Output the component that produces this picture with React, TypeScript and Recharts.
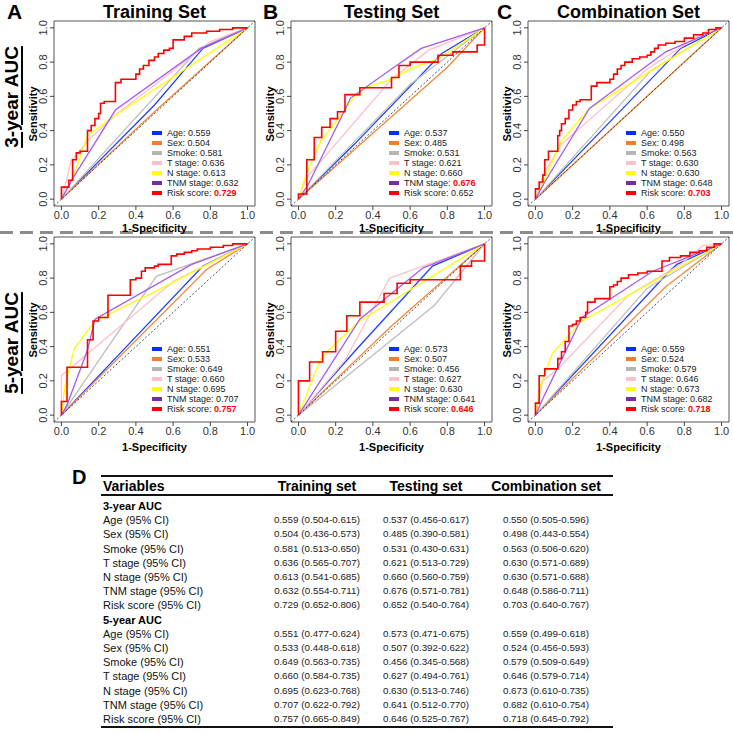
import React from 'react';
import { LineChart, Line, XAxis, YAxis, ReferenceLine, ReferenceArea } from 'recharts';

type Pt = [number, number];

const variables = ['Age', 'Sex', 'Smoke', 'T stage', 'N stage', 'TNM stage', 'Risk score'];
const lineColors = ['#2040ff', '#f08a3c', '#bebebe', '#ffc0cb', '#ffff00', '#a45cf0', '#ff0000'];
const swatchColors = ['#0030ff', '#ee7f2d', '#b5b5b5', '#ffc0cb', '#ffff00', '#7030a0', '#ff0000'];
const ticks = [0, 0.2, 0.4, 0.6, 0.8, 1];

const setTitles = ['Training Set', 'Testing Set', 'Combination Set'];
const setLetters = ['A', 'B', 'C'];
const yearLabels = ['3-year AUC', '5-year AUC'];

// AUC per variable (order of `variables`)
const aucTrain3 = [0.559, 0.504, 0.581, 0.636, 0.613, 0.632, 0.729];
const aucTest3 = [0.537, 0.485, 0.531, 0.621, 0.66, 0.676, 0.652];
const aucComb3 = [0.55, 0.498, 0.563, 0.63, 0.63, 0.648, 0.703];
const aucTrain5 = [0.551, 0.533, 0.649, 0.66, 0.695, 0.707, 0.757];
const aucTest5 = [0.573, 0.507, 0.456, 0.627, 0.63, 0.641, 0.646];
const aucComb5 = [0.559, 0.524, 0.579, 0.646, 0.673, 0.682, 0.718];

// 95% CI
const ciTrain3 = ['0.504-0.615', '0.436-0.573', '0.513-0.650', '0.565-0.707', '0.541-0.685', '0.554-0.711', '0.652-0.806'];
const ciTest3 = ['0.456-0.617', '0.390-0.581', '0.430-0.631', '0.513-0.729', '0.560-0.759', '0.571-0.781', '0.540-0.764'];
const ciComb3 = ['0.505-0.596', '0.443-0.554', '0.506-0.620', '0.571-0.689', '0.571-0.688', '0.586-0.711', '0.640-0.767'];
const ciTrain5 = ['0.477-0.624', '0.448-0.618', '0.563-0.735', '0.584-0.735', '0.623-0.768', '0.622-0.792', '0.665-0.849'];
const ciTest5 = ['0.471-0.675', '0.392-0.622', '0.345-0.568', '0.494-0.761', '0.513-0.746', '0.512-0.770', '0.525-0.767'];
const ciComb5 = ['0.499-0.618', '0.456-0.593', '0.509-0.649', '0.579-0.714', '0.610-0.735', '0.610-0.754', '0.645-0.792'];

// ROC curves [1-specificity, sensitivity]; risk score is a staircase (stepBefore)
const rocTrain3: Pt[][] = [
  [[0, 0], [0.5, 0.55], [0.76, 0.88], [1, 1]],
  [[0, 0], [0.5, 0.51], [1, 1]],
  [[0, 0], [0.74, 0.88], [1, 1]],
  [[0, 0], [0.03, 0.12], [0.05, 0.22], [0.15, 0.35], [0.3, 0.5], [0.6, 0.75], [0.8, 0.92], [1, 1]],
  [[0, 0], [0.06, 0.12], [0.14, 0.37], [0.29, 0.49], [1, 1]],
  [[0, 0], [0.06, 0.12], [0.29, 0.52], [0.75, 0.88], [1, 1]],
  [[0, 0], [0.04, 0.07], [0.06, 0.11], [0.08, 0.23], [0.1, 0.27], [0.14, 0.28], [0.16, 0.4], [0.18, 0.43], [0.2, 0.47], [0.21, 0.5], [0.23, 0.56], [0.29, 0.57], [0.32, 0.68], [0.4, 0.7], [0.42, 0.73], [0.44, 0.76], [0.47, 0.78], [0.5, 0.81], [0.52, 0.83], [0.55, 0.85], [0.58, 0.87], [0.6, 0.88], [0.66, 0.93], [0.7, 0.95], [0.78, 0.97], [0.85, 0.98], [0.92, 0.99], [1, 1]],
];
const rocTest3: Pt[][] = [
  [[0, 0], [0.3, 0.32], [0.77, 0.85], [1, 1]],
  [[0, 0], [0.8, 0.77], [1, 1]],
  [[0, 0], [0.6, 0.67], [1, 1]],
  [[0, 0], [0.04, 0.12], [0.5, 0.7], [0.7, 0.87], [1, 1]],
  [[0, 0], [0.04, 0.14], [0.12, 0.34], [0.25, 0.52], [0.3, 0.6], [0.36, 0.65], [0.5, 0.7], [0.6, 0.76], [0.75, 0.82], [1, 1]],
  [[0, 0], [0.05, 0.08], [0.24, 0.5], [0.28, 0.59], [0.5, 0.76], [0.66, 0.88], [1, 1]],
  [[0, 0], [0.045, 0.03], [0.085, 0.23], [0.125, 0.36], [0.17, 0.42], [0.21, 0.47], [0.25, 0.51], [0.33, 0.61], [0.5, 0.65], [0.54, 0.71], [0.6, 0.78], [0.75, 0.8], [0.83, 0.84], [0.96, 0.86], [1, 0.9], [1, 1]],
];
const rocComb3: Pt[][] = [
  [[0, 0], [0.78, 0.88], [1, 1]],
  [[0, 0], [0.5, 0.5], [1, 1]],
  [[0, 0], [0.62, 0.75], [1, 1]],
  [[0, 0], [0.04, 0.14], [0.14, 0.32], [0.6, 0.76], [0.93, 0.99], [1, 1]],
  [[0, 0], [0.05, 0.12], [0.14, 0.34], [0.29, 0.53], [1, 1]],
  [[0, 0], [0.05, 0.1], [0.29, 0.53], [0.7, 0.86], [1, 1]],
  [[0, 0], [0.02, 0.06], [0.04, 0.1], [0.05, 0.14], [0.07, 0.23], [0.12, 0.28], [0.13, 0.37], [0.14, 0.4], [0.16, 0.44], [0.18, 0.47], [0.2, 0.52], [0.22, 0.55], [0.24, 0.57], [0.3, 0.58], [0.33, 0.66], [0.4, 0.68], [0.42, 0.7], [0.44, 0.73], [0.46, 0.76], [0.48, 0.78], [0.52, 0.8], [0.56, 0.82], [0.6, 0.83], [0.62, 0.84], [0.64, 0.86], [0.66, 0.88], [0.7, 0.9], [0.75, 0.91], [0.8, 0.92], [0.85, 0.94], [0.9, 0.96], [0.93, 0.97], [0.97, 0.99], [1, 1]],
];
const rocTrain5: Pt[][] = [
  [[0, 0], [0.76, 0.87], [1, 1]],
  [[0, 0], [0.78, 0.85], [1, 1]],
  [[0, 0], [0.51, 0.81], [1, 1]],
  [[0, 0], [0, 0.23], [0.1, 0.32], [0.6, 0.78], [1, 1]],
  [[0, 0], [0.02, 0.18], [0.07, 0.39], [0.18, 0.55], [0.5, 0.72], [0.75, 0.86], [1, 1]],
  [[0, 0], [0.03, 0.06], [0.14, 0.38], [0.18, 0.56], [0.7, 0.88], [1, 1]],
  [[0, 0], [0.03, 0.08], [0.14, 0.28], [0.17, 0.44], [0.2, 0.55], [0.25, 0.57], [0.37, 0.7], [0.4, 0.79], [0.43, 0.8], [0.45, 0.84], [0.5, 0.86], [0.52, 0.87], [0.59, 0.88], [0.62, 0.93], [0.66, 0.94], [0.7, 0.95], [0.73, 0.96], [0.8, 0.97], [0.87, 0.98], [0.92, 0.99], [1, 1]],
];
const rocTest5: Pt[][] = [
  [[0, 0], [0.3, 0.37], [0.72, 0.87], [1, 1]],
  [[0, 0], [0.5, 0.52], [1, 1]],
  [[0, 0], [0.73, 0.64], [1, 1]],
  [[0, 0], [0.25, 0.32], [0.4, 0.62], [0.49, 0.8], [1, 1]],
  [[0, 0], [0.12, 0.33], [0.2, 0.42], [0.33, 0.55], [1, 1]],
  [[0, 0], [0.33, 0.56], [0.67, 0.86], [1, 1]],
  [[0, 0], [0.06, 0.2], [0.13, 0.31], [0.2, 0.37], [0.26, 0.49], [0.33, 0.58], [0.46, 0.66], [0.53, 0.71], [0.6, 0.77], [0.87, 0.79], [0.93, 0.87], [1, 0.9], [1, 1]],
];
const rocComb5: Pt[][] = [
  [[0, 0], [0.72, 0.84], [0.76, 0.88], [1, 1]],
  [[0, 0], [0.7, 0.75], [1, 1]],
  [[0, 0], [0.6, 0.74], [1, 1]],
  [[0, 0], [0.04, 0.2], [0.12, 0.27], [0.5, 0.7], [0.78, 0.88], [0.9, 0.99], [1, 1]],
  [[0, 0], [0.02, 0.15], [0.09, 0.36], [0.25, 0.55], [1, 1]],
  [[0, 0], [0.05, 0.12], [0.25, 0.57], [0.63, 0.84], [1, 1]],
  [[0, 0], [0.02, 0.07], [0.05, 0.23], [0.12, 0.27], [0.14, 0.33], [0.16, 0.37], [0.18, 0.43], [0.2, 0.52], [0.22, 0.53], [0.24, 0.55], [0.27, 0.57], [0.28, 0.6], [0.32, 0.66], [0.4, 0.68], [0.42, 0.75], [0.44, 0.76], [0.46, 0.78], [0.5, 0.8], [0.55, 0.82], [0.6, 0.83], [0.68, 0.84], [0.72, 0.9], [0.78, 0.92], [0.83, 0.93], [0.88, 0.95], [0.92, 0.96], [0.96, 0.98], [1, 1]],
];

const FONT = '"Liberation Sans", Arial, Helvetica, sans-serif';
const COL_LEFT = [54, 291, 528];
const ROW_TOP = [21, 237];
const XLAB_GAP = [22, 25];
const BOX_W = 201;
const BOX_H = 185;

const XTick = (props: any) => {
  const { x, y, payload } = props;
  return (
    <text x={x} y={y + 3} textAnchor="middle" dominantBaseline="central" fontSize={11} fill="#333" fontFamily={FONT}>
      {Number(payload.value).toFixed(1)}
    </text>
  );
};

const YTick = (props: any) => {
  const { x, y, payload } = props;
  const cx = x - 5;
  return (
    <text x={cx} y={y} transform={`rotate(-90, ${cx}, ${y})`} textAnchor="middle" dominantBaseline="central" fontSize={11} fill="#333" fontFamily={FONT}>
      {Number(payload.value).toFixed(1)}
    </text>
  );
};

function RocPanel({ curves, auc, left, top, xlabGap }: { curves: Pt[][]; auc: number[]; left: number; top: number; xlabGap: number }) {
  const series = curves.map((c) => c.map(([x, y]) => ({ x, y })));
  const best = auc.indexOf(Math.max(...auc));
  return (
    <>
      <div style={{ position: 'absolute', left: left - 44, top: top - 2 }}>
        <LineChart width={BOX_W + 46} height={BOX_H + 28} margin={{ top: 2, right: 2, bottom: 0, left: 0 }}>
          <XAxis
            type="number"
            dataKey="x"
            domain={[-0.04, 1.04]}
            ticks={ticks}
            interval={0}
            allowDataOverflow
            axisLine={false}
            tickLine={{ stroke: '#444' }}
            tickSize={4}
            height={26}
            tick={XTick}
          />
          <YAxis
            type="number"
            dataKey="y"
            domain={[-0.04, 1.04]}
            ticks={ticks}
            interval={0}
            allowDataOverflow
            axisLine={false}
            tickLine={{ stroke: '#444' }}
            tickSize={4}
            width={44}
            tick={YTick}
          />
          <ReferenceArea x1={-0.04} x2={1.04} y1={-0.04} y2={1.04} fill="none" stroke="#555" strokeWidth={1} ifOverflow="visible" />
          {series.map((d, i) => (
            <Line
              key={variables[i]}
              data={d}
              dataKey="y"
              type={i === 6 ? 'stepBefore' : 'linear'}
              stroke={lineColors[i]}
              strokeWidth={i === 6 ? 1.6 : 1.3}
              dot={false}
              activeDot={false}
              isAnimationActive={false}
            />
          ))}
          <ReferenceLine
            segment={[{ x: -0.04, y: -0.04 }, { x: 1.04, y: 1.04 }]}
            stroke="#222"
            strokeWidth={0.8}
            strokeDasharray="2 2"
            ifOverflow="visible"
          />
        </LineChart>
      </div>
      {variables.map((v, i) => (
        <div
          key={v}
          style={{
            position: 'absolute',
            left: left + 98,
            top: top + BOX_H - 13 - (6 - i) * 10 - 5,
            height: 10,
            lineHeight: '10px',
            fontSize: 9,
            fontFamily: FONT,
            color: '#222',
            whiteSpace: 'nowrap',
          }}
        >
          <span style={{ display: 'inline-block', width: 10, height: 4, background: swatchColors[i], verticalAlign: 'middle', marginRight: 5, marginTop: -2 }} />
          {v}:{' '}
          <span style={i === best ? { color: '#ff0000', fontWeight: 'bold' } : undefined}>{auc[i].toFixed(3)}</span>
        </div>
      ))}
      <div style={{ position: 'absolute', left: left, width: BOX_W, top: top + BOX_H + xlabGap - 6, textAlign: 'center', fontSize: 11, fontWeight: 'bold', fontFamily: FONT, lineHeight: '12px', whiteSpace: 'nowrap' }}>
        1-Specificity
      </div>
      <div
        style={{
          position: 'absolute',
          left: left - 21,
          top: top + BOX_H / 2,
          transform: 'translate(-50%, -50%) rotate(-90deg)',
          fontSize: 11,
          fontWeight: 'bold',
          fontFamily: FONT,
          whiteSpace: 'nowrap',
          lineHeight: '12px',
        }}
      >
        Sensitivity
      </div>
    </>
  );
}

const rowCurves = [
  [rocTrain3, rocTest3, rocComb3],
  [rocTrain5, rocTest5, rocComb5],
];
const rowAuc = [
  [aucTrain3, aucTest3, aucComb3],
  [aucTrain5, aucTest5, aucComb5],
];

const tableHeaders = ['Training set', 'Testing set', 'Combination set'];
const tableCols = [317, 426, 546];
const tableCi = [
  [ciTrain3, ciTest3, ciComb3],
  [ciTrain5, ciTest5, ciComb5],
];

function AucTable() {
  const rowY = (i: number) => 506 + i * 14.2;
  const cells: React.ReactNode[] = [];
  [0, 1].forEach((block) => {
    const base = block * 8;
    cells.push(
      <div key={`h${block}`} style={{ position: 'absolute', left: 103, top: rowY(base) - 7, lineHeight: '14px', fontSize: 11, fontWeight: 'bold', whiteSpace: 'nowrap' }}>
        {yearLabels[block]}
      </div>
    );
    variables.forEach((v, i) => {
      const y = rowY(base + 1 + i);
      cells.push(
        <div key={`l${block}${i}`} style={{ position: 'absolute', left: 103, top: y - 7, lineHeight: '14px', fontSize: 11, color: '#111', whiteSpace: 'nowrap' }}>
          {v} (95% CI)
        </div>
      );
      tableCols.forEach((cx, c) => {
        cells.push(
          <div key={`v${block}${i}${c}`} style={{ position: 'absolute', left: cx - 60, width: 120, textAlign: 'center', top: y - 7, lineHeight: '14px', fontSize: 9.8, color: '#222', whiteSpace: 'nowrap' }}>
            {rowAuc[block][c][i].toFixed(3)} ({tableCi[block][c][i]})
          </div>
        );
      });
    });
  });
  return (
    <div style={{ position: 'absolute', left: 0, top: 0, fontFamily: FONT }}>
      <div style={{ position: 'absolute', left: 72, top: 466, fontSize: 20, fontWeight: 'bold', lineHeight: '22px' }}>D</div>
      <div style={{ position: 'absolute', left: 101, top: 475, width: 512, height: 2, background: '#111' }} />
      <div style={{ position: 'absolute', left: 103, top: 477, lineHeight: '18px', fontSize: 14, fontWeight: 'bold', whiteSpace: 'nowrap' }}>Variables</div>
      {tableHeaders.map((h, c) => (
        <div key={h} style={{ position: 'absolute', left: tableCols[c] - 70, width: 140, textAlign: 'center', top: 477, lineHeight: '18px', fontSize: 14, fontWeight: 'bold', whiteSpace: 'nowrap' }}>
          {h}
        </div>
      ))}
      <div style={{ position: 'absolute', left: 101, top: 494, width: 512, height: 2, background: '#111' }} />
      {cells}
      <div style={{ position: 'absolute', left: 101, top: 726, width: 512, height: 2, background: '#111' }} />
    </div>
  );
}

export default function App() {
  return (
    <div style={{ position: 'absolute', left: 0, top: 0, width: 733, height: 733, background: '#fff', overflow: 'hidden', fontFamily: FONT, color: '#000' }}>
      {setTitles.map((t, c) => (
        <div key={t} style={{ position: 'absolute', left: COL_LEFT[c] + BOX_W / 2 - 120, width: 240, top: 2, textAlign: 'center', fontSize: 18, fontWeight: 'bold', lineHeight: '20px', whiteSpace: 'nowrap' }}>
          {t}
        </div>
      ))}
      {setLetters.map((l, c) => (
        <div key={l} style={{ position: 'absolute', left: [7, 263, 497][c], top: 1, fontSize: 21, fontWeight: 'bold', lineHeight: '22px' }}>
          {l}
        </div>
      ))}
      {yearLabels.map((y, r) => (
        <div
          key={y}
          style={{
            position: 'absolute',
            left: 12,
            top: [97, 343][r],
            transform: 'translate(-50%, -50%) rotate(-90deg)',
            fontSize: 19,
            fontWeight: 'bold',
            whiteSpace: 'nowrap',
            lineHeight: '22px',
            textDecoration: 'underline',
            textDecorationThickness: '2px',
            textUnderlineOffset: '3px',
          }}
        >
          {y}
        </div>
      ))}
      <svg style={{ position: 'absolute', left: 0, top: 230 }} width={733} height={5}>
        <line x1={0} y1={2.5} x2={733} y2={2.5} stroke="#8c8c8c" strokeWidth={3} strokeDasharray="13 7" />
      </svg>
      {rowCurves.map((row, r) =>
        row.map((curves, c) => (
          <RocPanel key={`${r}-${c}`} curves={curves} auc={rowAuc[r][c]} left={COL_LEFT[c]} top={ROW_TOP[r]} xlabGap={XLAB_GAP[r]} />
        ))
      )}
      <AucTable />
    </div>
  );
}
